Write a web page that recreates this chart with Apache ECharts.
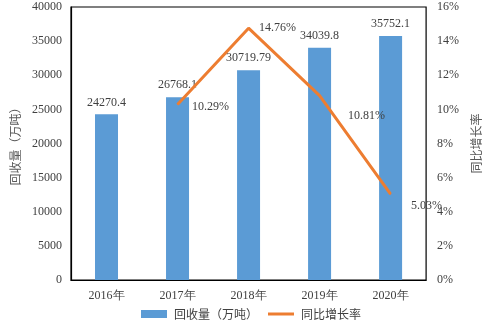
<!DOCTYPE html>
<html><head><meta charset="utf-8">
<script src="https://cdn.jsdelivr.net/npm/echarts@6/dist/echarts.min.js"></script>
<style>html,body{margin:0;padding:0;background:#fff}#c{width:490px;height:327px}</style>
</head><body><div id="c"></div>
<script>
var categories = ['2016年','2017年','2018年','2019年','2020年'];
var recovery = [24270.4, 26768.1, 30719.79, 34039.8, 35752.1];
var recoveryLabels = ['24270.4','26768.1','30719.79','34039.8','35752.1'];
var growth = [null, 10.29, 14.76, 10.81, 5.03];
var growthLabels = ['', '10.29%', '14.76%', '10.81%', '5.03%'];
var leftTicks = [0, 40000, 5000];
var rightTicks = [0, 16, 2];

var serif = '"Liberation Serif","Times New Roman",serif';
var cjk = '"Noto Sans CJK SC",sans-serif';
var chart = echarts.init(document.getElementById('c'));
var growthOffsets = [[0,0],[10,2],[6,0],[24,20],[16,12]];
chart.setOption({
  animation: false,
  grid: {left: 71, right: 53, top: 7, bottom: 47, show: true, borderColor: '#000', borderWidth: 1.2, backgroundColor: 'transparent'},
  legend: {
    bottom: 2, left: 136, itemGap: 10, itemWidth: 26, itemHeight: 8,
    textStyle: {fontFamily: cjk, fontSize: 12, color: '#404040', padding: [0, 0, 0, 2]},
    data: [{name: '回收量（万吨）', icon: 'rect'}, {name: '同比增长率', icon: 'path://M0,0h26v3h-26z'}]
  },
  xAxis: {
    type: 'category', data: categories,
    axisLine: {lineStyle: {color: '#000', width: 1.2}},
    axisTick: {show: false},
    axisLabel: {fontFamily: serif, fontSize: 12, color: '#404040', margin: 10}
  },
  yAxis: [{
    type: 'value', min: leftTicks[0], max: leftTicks[1], interval: leftTicks[2],
    name: '回收量（万吨）', nameLocation: 'middle', nameGap: 47, nameRotate: 90,
    nameTextStyle: {fontFamily: cjk, fontSize: 12, color: '#595959'},
    axisLine: {show: true, lineStyle: {color: '#000', width: 1.2}},
    axisTick: {show: false}, splitLine: {show: false},
    axisLabel: {fontFamily: serif, fontSize: 12, color: '#404040', margin: 9,
      formatter: function(v){ return String(v); }}
  }, {
    type: 'value', min: rightTicks[0], max: rightTicks[1], interval: rightTicks[2],
    name: '同比增长率', nameLocation: 'middle', nameGap: 38, nameRotate: 90,
    nameTextStyle: {fontFamily: cjk, fontSize: 12, color: '#595959'},
    axisLine: {show: false}, axisTick: {show: false}, splitLine: {show: false},
    axisLabel: {fontFamily: serif, fontSize: 12, color: '#404040', margin: 11, formatter: '{value}%'}
  }],
  series: [{
    name: '回收量（万吨）', type: 'bar', barWidth: 23,
    itemStyle: {color: '#5B9BD5'},
    label: {show: true, position: 'top', distance: 6, fontFamily: serif, fontSize: 12, color: '#404040',
      formatter: function(p){ return recoveryLabels[p.dataIndex]; }},
    data: recovery
  }, {
    name: '同比增长率', type: 'line', yAxisIndex: 1, z: 5,
    symbol: 'circle', symbolSize: 1, showSymbol: true,
    lineStyle: {color: '#ED7D31', width: 3}, itemStyle: {color: '#ED7D31'},
    data: growth.map(function(v, i){
      return {value: v, label: {show: v !== null, position: 'right', distance: 4, offset: growthOffsets[i],
        fontFamily: serif, fontSize: 12, color: '#404040', formatter: growthLabels[i]}};
    })
  }]
});
</script></body></html>
